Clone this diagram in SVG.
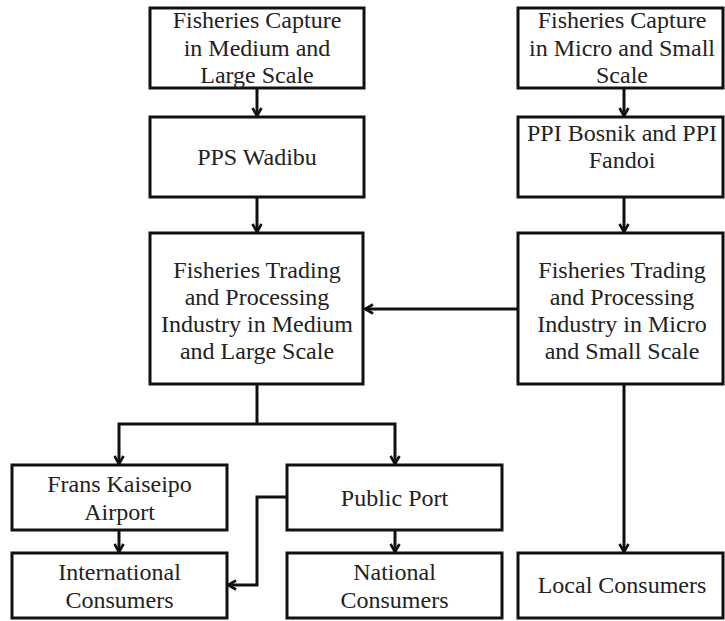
<svg xmlns="http://www.w3.org/2000/svg" width="725" height="621" viewBox="0 0 725 621">
<style>
.box{fill:#fff;stroke:#111;stroke-width:3}
.t{font-family:'Liberation Serif','Times New Roman',serif;font-size:24px;fill:#222;text-anchor:middle}
.c{fill:none;stroke:#111;stroke-width:3;marker-end:url(#ah)}
.cn{fill:none;stroke:#111;stroke-width:3}
</style>
<defs>
<marker id="ah" viewBox="0 0 12 12" refX="10" refY="6" markerWidth="12" markerHeight="12" markerUnits="userSpaceOnUse" orient="auto">
<path d="M2,1.5 L10,6 L2,10.5" fill="none" stroke="#111" stroke-width="2.6"/>
</marker>
</defs>
<rect width="725" height="621" fill="#fff"/>
<g id="connectors">
<line class="c" x1="257" y1="88" x2="257" y2="116"/>
<line class="c" x1="624" y1="88" x2="624" y2="116"/>
<line class="c" x1="257" y1="197" x2="257" y2="232"/>
<line class="c" x1="624" y1="197" x2="624" y2="232"/>
<line class="c" x1="518" y1="309" x2="365" y2="309"/>
<path class="cn" d="M257,384 V424"/>
<path class="c" d="M257,424 H119 V464"/>
<path class="c" d="M257,424 H395 V464"/>
<line class="c" x1="624" y1="384" x2="624" y2="552"/>
<line class="c" x1="119" y1="530" x2="119" y2="552"/>
<line class="c" x1="395" y1="530" x2="395" y2="552"/>
<path class="c" d="M287,497 H257 V585 H228"/>
</g>
<g id="capture-medium-large">
<rect class="box" x="150" y="8" width="214" height="80"/>
<text class="t" x="257" y="28">Fisheries Capture</text>
<text class="t" x="257" y="56">in Medium and</text>
<text class="t" x="257" y="83">Large Scale</text>
</g>
<g id="capture-micro-small">
<rect class="box" x="518" y="8" width="205" height="80"/>
<text class="t" x="622" y="28">Fisheries Capture</text>
<text class="t" x="622" y="56">in Micro and Small</text>
<text class="t" x="622" y="83">Scale</text>
</g>
<g id="pps-wadibu">
<rect class="box" x="150" y="117" width="214" height="80"/>
<text class="t" x="257" y="165">PPS Wadibu</text>
</g>
<g id="ppi-bosnik-fandoi">
<rect class="box" x="518" y="117" width="205" height="80"/>
<text class="t" x="622" y="141">PPI Bosnik and PPI</text>
<text class="t" x="622" y="168">Fandoi</text>
</g>
<g id="trading-medium-large">
<rect class="box" x="150" y="233" width="213" height="151"/>
<text class="t" x="257" y="278">Fisheries Trading</text>
<text class="t" x="257" y="305">and Processing</text>
<text class="t" x="257" y="332">Industry in Medium</text>
<text class="t" x="257" y="359">and Large Scale</text>
</g>
<g id="trading-micro-small">
<rect class="box" x="518" y="233" width="205" height="151"/>
<text class="t" x="622" y="278">Fisheries Trading</text>
<text class="t" x="622" y="305">and Processing</text>
<text class="t" x="622" y="332">Industry in Micro</text>
<text class="t" x="622" y="359">and Small Scale</text>
</g>
<g id="frans-kaiseipo-airport">
<rect class="box" x="12" y="465" width="215" height="65"/>
<text class="t" x="119.5" y="492">Frans Kaiseipo</text>
<text class="t" x="119.5" y="520">Airport</text>
</g>
<g id="public-port">
<rect class="box" x="287" y="465" width="215" height="65"/>
<text class="t" x="394.5" y="506">Public Port</text>
</g>
<g id="international-consumers">
<rect class="box" x="12" y="553" width="215" height="65"/>
<text class="t" x="119.5" y="580">International</text>
<text class="t" x="119.5" y="608">Consumers</text>
</g>
<g id="national-consumers">
<rect class="box" x="287" y="553" width="215" height="65"/>
<text class="t" x="394.5" y="580">National</text>
<text class="t" x="394.5" y="608">Consumers</text>
</g>
<g id="local-consumers">
<rect class="box" x="518" y="553" width="205" height="65"/>
<text class="t" x="622" y="593">Local Consumers</text>
</g>
</svg>
